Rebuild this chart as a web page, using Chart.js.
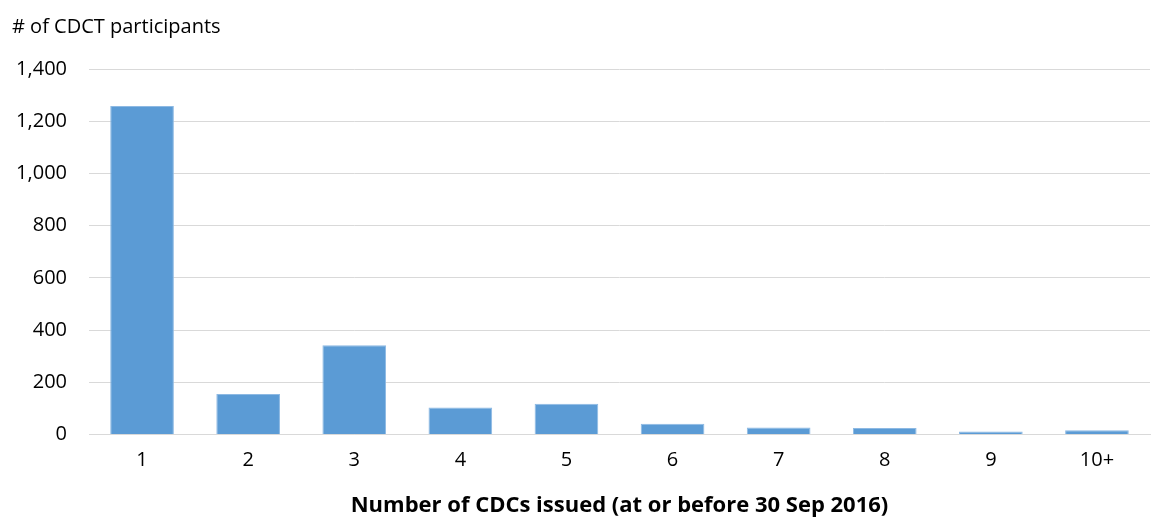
<!DOCTYPE html>
<html>
<head>
<meta charset="utf-8">
<script src="https://cdn.jsdelivr.net/npm/chart.js@4/dist/chart.umd.min.js"></script>
<style>
  html, body { margin: 0; padding: 0; background: #ffffff; }
  #wrap { width: 1151px; height: 519px; position: relative; }
</style>
</head>
<body>
<div id="wrap"><canvas id="c"></canvas></div>
<script>
// Number of CDCs issued per participant (at or before 30 Sep 2016)
const categories = ['1', '2', '3', '4', '5', '6', '7', '8', '9', '10+'];
const participants = [1258, 155, 342, 104, 118, 42, 27, 25, 12, 17];
const yTitle = '# of CDCT participants';
const xTitle = 'Number of CDCs issued (at or before 30 Sep 2016)';

const FONT = '"Open Sans", Lato, sans-serif';

new Chart(document.getElementById('c'), {
  type: 'bar',
  data: {
    labels: categories,
    datasets: [{
      data: participants,
      backgroundColor: '#5B9BD5',
      borderColor: '#8DB9E3',
      borderWidth: 1,
      categoryPercentage: 0.6,
      barPercentage: 1.0
    }]
  },
  options: {
    responsive: true,
    maintainAspectRatio: false,
    animation: false,
    layout: { padding: { left: 12, right: 1, top: 0, bottom: 0 } },
    plugins: {
      legend: { display: false },
      tooltip: { enabled: false },
      title: {
        display: true,
        text: yTitle,
        align: 'start',
        color: '#000000',
        font: { family: FONT, size: 20, weight: 'normal' },
        padding: { top: 15, bottom: 30 }
      }
    },
    scales: {
      x: {
        grid: { display: false, drawTicks: false },
        border: { display: true, color: '#d9d9d9', width: 1 },
        ticks: {
          color: '#000000',
          font: { family: FONT, size: 20 },
          padding: 14
        },
        title: {
          display: true,
          text: xTitle,
          color: '#000000',
          font: { family: FONT, size: 22, weight: 'bold' },
          padding: { top: 6, bottom: 0 }
        }
      },
      y: {
        min: 0,
        max: 1400,
        afterFit: (scale) => { scale.width = 77; },
        ticks: {
          stepSize: 200,
          color: '#000000',
          font: { family: FONT, size: 20 },
          padding: 22,
          callback: (v) => v.toLocaleString('en-US')
        },
        grid: { color: '#d9d9d9', lineWidth: 1, drawTicks: false },
        border: { display: false }
      }
    }
  }
});
</script>
</body>
</html>
